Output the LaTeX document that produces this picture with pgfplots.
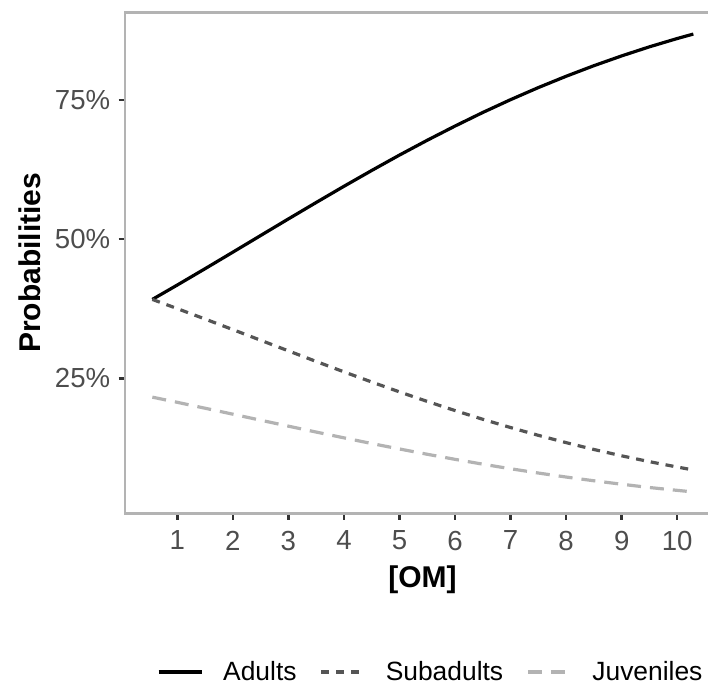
\documentclass[border=0pt]{standalone}
\usepackage{fontspec}
\setmainfont{Liberation Sans}
\usepackage{pgfplots}
\usepackage{pgfplotstable}
\pgfplotsset{compat=1.18}

\definecolor{tickgray}{HTML}{4D4D4D}
\definecolor{framegray}{HTML}{B3B3B3}
\definecolor{subgray}{HTML}{555555}
\definecolor{juvgray}{HTML}{B3B3B3}

% Predicted probabilities (%) by [OM]
\pgfplotstableread{
om     adults  subadults  juveniles
0.55   39.18   39.18      21.63
1.0    41.77   37.53      20.70
1.5    44.70   35.66      19.64
2.0    47.67   33.76      18.57
2.5    50.66   31.85      17.49
3.0    53.64   29.94      16.42
3.5    56.59   28.04      15.36
4.0    59.50   26.17      14.32
4.5    62.34   24.35      13.30
5.0    65.11   22.57      12.32
5.5    67.77   20.86      11.37
6.0    70.32   19.22      10.46
6.5    72.76   17.65       9.59
7.0    75.06   16.17       8.77
7.5    77.23   14.77       8.00
8.0    79.26   13.46       7.28
8.5    81.16   12.23       6.61
9.0    82.92   11.09       5.99
9.5    84.55   10.04       5.40
10.0   86.04    9.08       4.89
10.29  86.84    8.55       4.60
}\probs

\begin{document}
\begin{tikzpicture}
\begin{axis}[
  at={(62.5pt,85.35pt)}, anchor=south west,
  scale only axis, width=297.5pt, height=250.5pt,
  xmin=0.058, xmax=10.77, ymin=0.77, ymax=90.75,
  xtick={1,2,...,10},
  ytick={25,50,75},
  yticklabels={25\%,50\%,75\%},
  tick pos=left,
  tick align=outside,
  major tick length=3.2pt,
  tick style={color=black!80, line width=1.2pt},
  axis line style={framegray, line width=1.4pt},
  /pgf/number format/assume math mode=true,
  ticklabel style={font=\fontsize{13.8}{16}\selectfont, text=tickgray},
  xticklabel style={inner sep=0pt, yshift=-5.4pt},
  yticklabel style={inner sep=0pt, xshift=-4pt},
  xlabel={[OM]}, ylabel={Probabilities},
  label style={font=\fontsize{15}{18}\selectfont\bfseries},
  xlabel style={at={(0.5,-0.1331)}, anchor=center},
  ylabel style={at={(-0.1605,0.5)}, anchor=center, rotate=0},
  legend columns=3,
  legend image code/.code={\draw[#1] (0pt,0pt) -- (21.5pt,0pt);},
  legend style={
    draw=none, fill=none, inner sep=0pt, outer sep=0pt,
    at={(0.0538,-0.3168)}, anchor=west,
    font=\fontsize{13.2}{16}\selectfont,
    nodes={inner sep=0pt, anchor=west},
    % odd columns hold the line samples, even columns the names
    /tikz/every odd column/.append style={column sep=10pt},
    /tikz/every even column/.append style={column sep=11.5pt},
  },
]
\addplot[black, line width=1.6pt] table[x=om, y=adults] {\probs};
\addlegendentry{Adults}
\addplot[subgray, line width=1.6pt, dash pattern=on 4pt off 3.5pt] table[x=om, y=subadults] {\probs};
\addlegendentry{Subadults}
\addplot[juvgray, line width=1.6pt, dash pattern=on 7pt off 4.5pt] table[x=om, y=juveniles] {\probs};
\addlegendentry{Juveniles}
\end{axis}
\pgfresetboundingbox
\useasboundingbox (0pt,0pt) rectangle (354pt,342pt);
\end{tikzpicture}
\end{document}
